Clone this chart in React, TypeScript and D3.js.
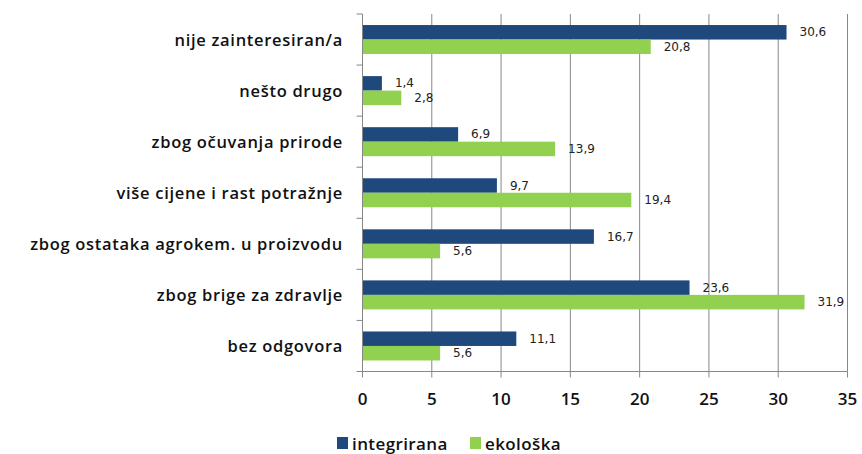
import React from "react";
import * as d3 from "d3";

const categories = [
  "nije zainteresiran/a",
  "nešto drugo",
  "zbog očuvanja prirode",
  "više cijene i rast potražnje ",
  "zbog ostataka agrokem. u proizvodu",
  "zbog brige za zdravlje",
  "bez odgovora",
];
const integrirana = [30.6, 1.4, 6.9, 9.7, 16.7, 23.6, 11.1];
const ekoloska = [20.8, 2.8, 13.9, 19.4, 5.6, 31.9, 5.6];
const seriesNames = ["integrirana", "ekološka"];
const colors = ["#1F497D", "#92D050"];
const xTicks = [0, 5, 10, 15, 20, 25, 30, 35];

const W = 862;
const H = 454;
const left = 362.5;
const right = 847.5;
const top = 14;
const bottom = 371.5;

export default function App() {
  const x = d3.scaleLinear().domain([0, 35]).range([left, right]);
  const y = d3.scaleBand().domain(categories).range([top, bottom]).paddingInner(0).paddingOuter(0);
  const bw = y.bandwidth();
  const barH = 14.5;
  const fmt = (v: number) => v.toFixed(1).replace(".", ",");
  const series = [integrirana, ekoloska];
  const labelFont = "'Open Sans', 'DejaVu Sans', sans-serif";

  return (
    <svg width={W} height={H} style={{ position: "absolute", left: 0, top: 0, background: "#fff" }}>
      {/* gridlines */}
      {xTicks.slice(1).map((t) => (
        <line key={"g" + t} x1={x(t)} x2={x(t)} y1={top} y2={bottom} stroke="#878787" strokeWidth={1} />
      ))}
      {/* bars */}
      {categories.map((c, i) => {
        const cy = (y(c) as number) + bw / 2;
        return series.map((s, si) => {
          const by = cy - barH + si * barH;
          return (
            <g key={c + si}>
              <rect x={x(0)} y={by} width={x(s[i]) - x(0)} height={barH} fill={colors[si]} />
              <text
                x={x(s[i]) + 13}
                y={by + barH / 2}
                dominantBaseline="central"
                fontFamily="'DejaVu Sans', Verdana, sans-serif"
                fontSize={12}
                fill="#222"
              >
                {fmt(s[i])}
              </text>
            </g>
          );
        });
      })}
      {/* y axis */}
      <line x1={left} x2={left} y1={top} y2={bottom} stroke="#878787" />
      {d3.range(categories.length + 1).map((k) => {
        const yy = top + k * bw;
        return <line key={"yt" + k} x1={left - 6} x2={left} y1={yy} y2={yy} stroke="#878787" />;
      })}
      {categories.map((c) => (
        <text
          key={"l" + c}
          x={343}
          y={(y(c) as number) + bw / 2}
          textAnchor="end"
          dominantBaseline="central"
          fontFamily={labelFont}
          fontWeight={600}
          fontSize={16.5}
          letterSpacing={0.7}
          fill="#111"
        >
          {c}
        </text>
      ))}
      {/* x axis */}
      <line x1={left} x2={right} y1={bottom} y2={bottom} stroke="#878787" />
      {xTicks.map((t) => (
        <g key={"xt" + t}>
          <line x1={x(t)} x2={x(t)} y1={bottom} y2={bottom + 6} stroke="#878787" />
          <text
            x={x(t)}
            y={398}
            textAnchor="middle"
            dominantBaseline="central"
            fontFamily={labelFont}
            fontWeight={600}
            fontSize={17}
            fill="#111"
          >
            {t}
          </text>
        </g>
      ))}
      {/* legend */}
      {seriesNames.map((n, i) => {
        const lx = i === 0 ? 337 : 470;
        return (
          <g key={"lg" + n}>
            <rect x={lx} y={437} width={11} height={12} fill={colors[i]} />
            <text
              x={lx + 15}
              y={443}
              dominantBaseline="central"
              fontFamily={labelFont}
              fontWeight={600}
              fontSize={17}
              letterSpacing={0.4}
              fill="#111"
            >
              {n}
            </text>
          </g>
        );
      })}
    </svg>
  );
}
